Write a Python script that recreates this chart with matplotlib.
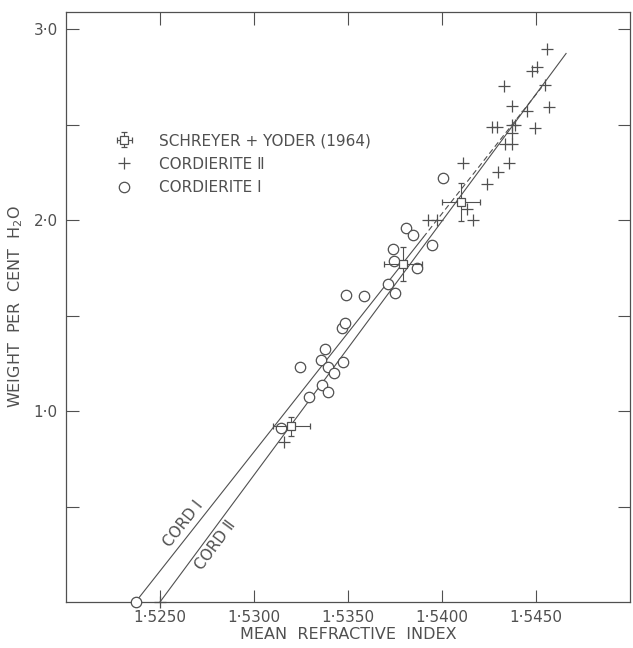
import numpy as np
import matplotlib.pyplot as plt
from matplotlib.ticker import FixedLocator

plt.rcParams['font.family'] = ['DejaVu Sans']

# Cordierite I (open circles)
cord1_n = [1.54005, 1.53807, 1.53845, 1.53946, 1.53738, 1.53743, 1.53866, 1.53711,
           1.53749, 1.53487, 1.53583, 1.53466, 1.53482, 1.53375, 1.53359, 1.53396,
           1.53428, 1.53471, 1.53247, 1.53364, 1.53396, 1.53290, 1.53146]
cord1_w = [2.22, 1.96, 1.92, 1.87, 1.85, 1.785, 1.75, 1.665,
           1.62, 1.61, 1.60, 1.435, 1.46, 1.325, 1.27, 1.23,
           1.20, 1.257, 1.23, 1.136, 1.10, 1.073, 0.91]

# Cordierite II (crosses)
cord2_n = [1.54560, 1.54480, 1.54506, 1.54330, 1.54550, 1.54373, 1.54453, 1.54570,
           1.54266, 1.54293, 1.54373, 1.54389, 1.54373, 1.54496, 1.54336, 1.54373,
           1.54357, 1.54298, 1.54240, 1.54112, 1.54133, 1.54165, 1.53925, 1.53973,
           1.53161]
cord2_w = [2.895, 2.78, 2.80, 2.70, 2.71, 2.60, 2.57, 2.59,
           2.49, 2.49, 2.50, 2.50, 2.455, 2.48, 2.40, 2.40,
           2.30, 2.25, 2.19, 2.30, 2.06, 2.00, 2.00, 2.00,
           0.84]

# Schreyer + Yoder (1964)
sy_n = [1.53199, 1.53791, 1.54101]
sy_w = [0.92, 1.77, 2.094]
sy_nerr = [0.001, 0.001, 0.001]
sy_werr = [0.05, 0.09, 0.10]

# fitted lines: water = slope * (n - n0)
cord1_n0, cord1_slope = 1.5237, 124.8
cord2_n0, cord2_slope = 1.5250, 133.0
cord1_solid = [1.5237, 1.5390]
cord1_dash = [1.5390, 1.5453]
cord2_range = [1.5250, 1.5466]

xticks = [1.5250, 1.5300, 1.5350, 1.5400, 1.5450]
xticklabels = ['1·5250', '1·5300', '1·5350', '1·5400', '1·5450']
yticks = [1.0, 2.0, 3.0]
yticklabels = ['1·0', '2·0', '3·0']
yminor = [0.5, 1.5, 2.5]

gray = '#505050'

fig = plt.figure(figsize=(6.33, 6.48), dpi=100)
ax = fig.add_axes([66 / 633, 1 - 602 / 648, 564 / 633, 590 / 648])

def line_y(xs, n0, k):
    return [k * (x - n0) for x in xs]

ax.plot(cord1_solid, line_y(cord1_solid, cord1_n0, cord1_slope), color=gray, lw=0.8)
ax.plot(cord1_dash, line_y(cord1_dash, cord1_n0, cord1_slope), color=gray, lw=0.8,
        ls=(0, (5, 3)))
ax.plot(cord2_range, line_y(cord2_range, cord2_n0, cord2_slope), color=gray, lw=0.8)

circ = ax.plot(cord1_n, cord1_w, 'o', ms=7.5, mfc='white', mec=gray, mew=0.9,
               label='CORDIERITE Ⅰ')[0]
plus = ax.plot(cord2_n, cord2_w, '+', ms=8, mec=gray, mew=0.9,
               label='CORDIERITE Ⅱ')[0]
eb = ax.errorbar(sy_n, sy_w, xerr=sy_nerr, yerr=sy_werr, fmt='s', ms=6, mfc='white',
                 mec=gray, mew=0.9, ecolor=gray, elinewidth=0.8, capsize=2.5,
                 capthick=0.8, zorder=4, label='SCHREYER + YODER (1964)')

# intercepts on the index axis
ax.plot([cord1_n0], [0], 'o', ms=7.5, mfc='white', mec=gray, mew=0.9, clip_on=False, zorder=5)
ax.plot([cord2_n0], [0], '+', ms=8, mec=gray, mew=0.9, clip_on=False, zorder=5)

ax.set_xlim(1.5200, 1.5500)
ax.set_ylim(0, 3.09)
ax.set_xticks(xticks)
ax.set_xticklabels(xticklabels)
ax.set_yticks(yticks)
ax.set_yticklabels(yticklabels)
ax.yaxis.set_minor_locator(FixedLocator(yminor))
ax.tick_params(which='both', direction='in', top=True, right=True, length=9,
               width=0.8, colors=gray, labelsize=11, pad=6)
for s in ax.spines.values():
    s.set_color(gray)
    s.set_linewidth(0.9)

ax.set_xlabel('MEAN  REFRACTIVE  INDEX', fontsize=11.5, color=gray, labelpad=1)
ax.set_ylabel('WEIGHT  PER  CENT  H$_2$O', fontsize=11.5, color=gray, labelpad=6)

# line labels rotated along the lines
for n0, k, xl, yl, txt in [(cord1_n0, cord1_slope, 1.52623, 0.408, 'CORD Ⅰ'),
                           (cord2_n0, cord2_slope, 1.52793, 0.298, 'CORD Ⅱ')]:
    p0 = ax.transData.transform((n0, 0))
    p1 = ax.transData.transform((n0 + 0.01, k * 0.01))
    ang = np.degrees(np.arctan2(p1[1] - p0[1], p1[0] - p0[0]))
    ax.text(xl, yl, txt, rotation=ang, rotation_mode='anchor', ha='center',
            va='center', fontsize=11, color=gray)

ax.legend(handles=[eb, plus, circ], loc='upper left', bbox_to_anchor=(0.06, 0.818),
          frameon=False, fontsize=11, labelcolor=gray, handlelength=1.4,
          handletextpad=1.6, labelspacing=0.55)

fig.savefig('out.png', dpi=100)
